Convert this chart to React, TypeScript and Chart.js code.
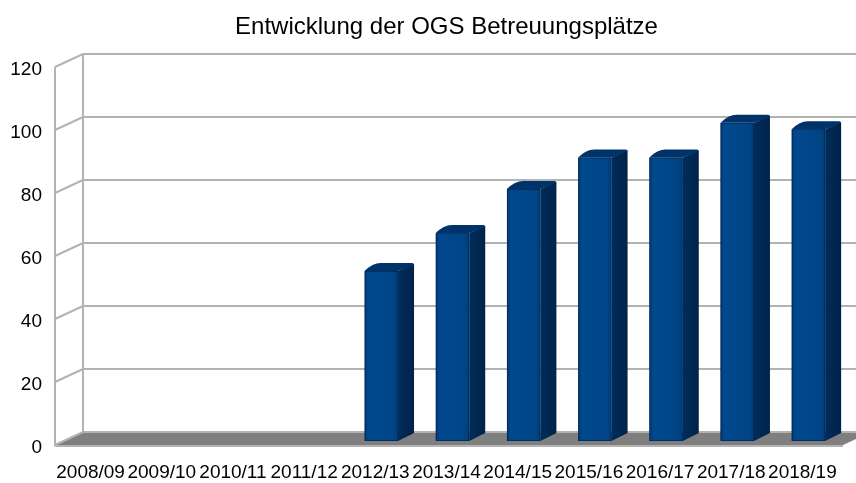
import React, { useEffect, useRef } from "react";
import { Chart, registerables } from "chart.js";

Chart.register(...registerables);

const TITLE = "Entwicklung der OGS Betreuungsplätze";
const categories = [
  "2008/09", "2009/10", "2010/11", "2011/12", "2012/13", "2013/14",
  "2014/15", "2015/16", "2016/17", "2017/18", "2018/19",
];
const places: (number | null)[] = [null, null, null, null, 54, 66, 80, 90, 90, 101, 99];
const yTicks = [0, 20, 40, 60, 80, 100, 120];

const FONT = "'Liberation Sans', Arial, sans-serif";

// pseudo-3D geometry
const WALL_DX = 28;
const FRONT_DY = -3;
const BACK_DY = -16;
const BAR_DX = 6;
const BAR_DY = -7;
const DEPTH_DX = 16;
const DEPTH_DY = -8;

const threeD = {
  id: "threeD",
  beforeDatasetsDraw(chart: any) {
    const { ctx, chartArea, scales } = chart;
    const ys = scales.y;
    const left = chartArea.left;
    const right = chartArea.right;
    const W = chart.width;
    ctx.save();
    // floor
    const f0 = ys.getPixelForValue(0) + FRONT_DY;
    const b0 = ys.getPixelForValue(0) + BACK_DY;
    ctx.fillStyle = "#7f7f7f";
    ctx.beginPath();
    ctx.moveTo(left, f0);
    ctx.lineTo(right + 5, f0);
    ctx.lineTo(right + 5 + WALL_DX, b0);
    ctx.lineTo(left + WALL_DX, b0);
    ctx.closePath();
    ctx.fill();

    ctx.strokeStyle = "#b3b3b3";
    ctx.lineWidth = 2;
    // front edge of floor
    ctx.beginPath();
    ctx.moveTo(left, f0 + 1);
    ctx.lineTo(right + 5, f0 + 1);
    ctx.stroke();
    // back wall grid lines + left wall diagonals
    for (const v of yTicks) {
      const yp = ys.getPixelForValue(v);
      ctx.beginPath();
      ctx.moveTo(left + WALL_DX, yp + BACK_DY);
      ctx.lineTo(W, yp + BACK_DY);
      ctx.stroke();
      ctx.beginPath();
      ctx.moveTo(left, yp + FRONT_DY);
      ctx.lineTo(left + WALL_DX, yp + BACK_DY);
      ctx.stroke();
    }
    const top = ys.getPixelForValue(120);
    ctx.beginPath();
    ctx.moveTo(left, top + FRONT_DY);
    ctx.lineTo(left, f0 + 1);
    ctx.stroke();
    ctx.beginPath();
    ctx.moveTo(left + WALL_DX, top + BACK_DY);
    ctx.lineTo(left + WALL_DX, b0);
    ctx.stroke();

    // title
    ctx.fillStyle = "#000";
    ctx.font = `24px ${FONT}`;
    ctx.textAlign = "center";
    ctx.textBaseline = "alphabetic";
    ctx.fillText(TITLE, (left + right) / 2, 34);
    ctx.restore();
  },
  afterDatasetsDraw(chart: any) {
    const { ctx } = chart;
    const meta = chart.getDatasetMeta(0);
    ctx.save();
    meta.data.forEach((el: any, i: number) => {
      if (places[i] == null) return;
      const { x, y, base, width } = el.getProps(["x", "y", "base", "width"], true);
      const x0 = x + BAR_DX - width / 2;
      const x1 = x0 + width;
      const yt = y + BAR_DY;
      const yb = base + BAR_DY;
      ctx.lineJoin = "round";
      // side
      const sg = ctx.createLinearGradient(x1, 0, x1 + DEPTH_DX, 0);
      sg.addColorStop(0, "#002c5a");
      sg.addColorStop(1, "#00234a");
      ctx.fillStyle = sg;
      ctx.beginPath();
      ctx.moveTo(x1, yt);
      ctx.lineTo(x1 + DEPTH_DX, yt + DEPTH_DY + 1);
      ctx.lineTo(x1 + DEPTH_DX, yb + DEPTH_DY);
      ctx.lineTo(x1, yb);
      ctx.closePath();
      ctx.fill();
      // top
      ctx.fillStyle = "#00336a";
      ctx.beginPath();
      ctx.moveTo(x0, yt);
      ctx.quadraticCurveTo(x0 + DEPTH_DX * 0.5, yt + DEPTH_DY, x0 + DEPTH_DX, yt + DEPTH_DY);
      ctx.lineTo(x1 + DEPTH_DX - 2, yt + DEPTH_DY);
      ctx.quadraticCurveTo(x1 + DEPTH_DX, yt + DEPTH_DY, x1 + DEPTH_DX, yt + DEPTH_DY + 2);
      ctx.lineTo(x1, yt);
      ctx.closePath();
      ctx.fill();
      // front
      const fg = ctx.createLinearGradient(x0, 0, x1, 0);
      fg.addColorStop(0, "#003a72");
      fg.addColorStop(0.12, "#00498e");
      fg.addColorStop(0.85, "#004586");
      fg.addColorStop(1, "#003d78");
      ctx.fillStyle = fg;
      ctx.fillRect(x0, yt, width, yb - yt);
      ctx.strokeStyle = "rgba(0,30,70,0.6)";
      ctx.lineWidth = 1;
      ctx.strokeRect(x0 + 0.5, yt + 0.5, width - 1, yb - yt - 1);
    });
    ctx.restore();
  },
};

export default function App() {
  const ref = useRef<HTMLCanvasElement | null>(null);
  useEffect(() => {
    if (!ref.current) return;
    const chart = new Chart(ref.current, {
      type: "bar",
      data: {
        labels: categories,
        datasets: [
          {
            label: "OGS Betreuungsplätze",
            data: places,
            backgroundColor: "rgba(0,0,0,0)",
            borderWidth: 0,
            categoryPercentage: 1,
            barPercentage: 0.47,
          },
        ],
      },
      options: {
        responsive: false,
        animation: false,
        events: [],
        layout: { padding: { top: 70, right: 18, left: 0, bottom: 0 } },
        plugins: {
          legend: { display: false },
          title: { display: false },
          tooltip: { enabled: false },
        },
        scales: {
          x: {
            grid: { display: false, drawTicks: false },
            border: { display: false },
            ticks: {
              color: "#000",
              font: { family: FONT, size: 19 },
              padding: 13,
              maxRotation: 0,
              minRotation: 0,
              autoSkip: false,
            },
            afterFit: (s: any) => {
              s.height = 35;
              s.paddingLeft = 0;
              s.paddingRight = 0;
            },
          },
          y: {
            min: 0,
            max: 120,
            grid: { display: false, drawTicks: false },
            border: { display: false },
            ticks: {
              stepSize: 20,
              color: "#000",
              font: { family: FONT, size: 19 },
              padding: 13,
            },
            afterFit: (s: any) => {
              s.width = 55;
              s.paddingTop = 0;
              s.paddingBottom = 0;
            },
          },
        },
      },
      plugins: [threeD],
    });
    return () => chart.destroy();
  }, []);
  return (
    <div style={{ position: "fixed", left: 0, top: 0, width: 856, height: 483, background: "#fff" }}>
      <canvas ref={ref} width={856} height={483} style={{ display: "block" }} />
    </div>
  );
}
